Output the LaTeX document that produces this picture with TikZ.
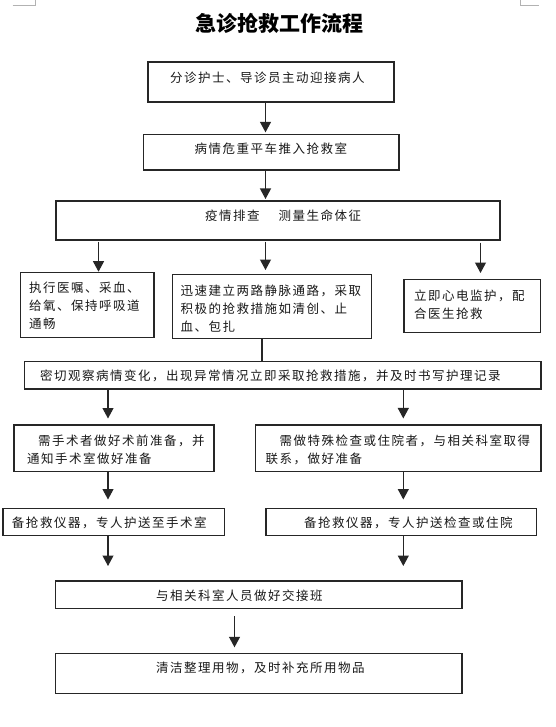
\documentclass[tikz,border=0pt]{standalone}
\usepackage{fontspec}
\setmainfont{Noto Sans CJK SC}
\newfontfamily\bodyfont{Noto Sans CJK SC}[LetterSpace=12]
\usetikzlibrary{arrows.meta}
\tikzset{
  box/.style={draw=black!85, line width=1.1pt, inner sep=0pt, outer sep=0pt},
  txt/.style={anchor=west, inner sep=0pt, outer sep=0pt, text=black!90, font=\bodyfont\fontsize{12.5}{14}\selectfont},
  arr/.style={draw=black!85, line width=1.1pt, -{Triangle[length=10.5pt,width=11pt]}},
  link/.style={draw=black!85, line width=1.1pt},
  cropline/.style={draw=black!30, line width=0.8pt}
}
\begin{document}
\begin{tikzpicture}[x=1pt,y=-1pt]
\useasboundingbox[fill=white] (0,0) rectangle (555,727);

% crop marks
\coordinate (cm1) at (12.7,5);
\coordinate (cm2) at (35,5);
\coordinate (cm3) at (35,0);
\coordinate (cm4) at (520,0);
\coordinate (cm5) at (520,5);
\coordinate (cm6) at (539,5);
\draw[cropline] (cm1) -- (cm2) -- (cm3);
\draw[cropline] (cm4) -- (cm5) -- (cm6);

% title
\node[font=\fontsize{21}{21}\selectfont\bfseries, inner sep=0pt] (title) at (279.3,23) {急诊抢救工作流程};

% boxes
\node[box, minimum width=246pt, minimum height=40pt] (b1) at (271,82) {};
\node[box, minimum width=255.6pt, minimum height=35.7pt] (b2) at (271.2,152.2) {};
\node[box, minimum width=444pt, minimum height=39pt] (b3) at (278,220.5) {};
\node[box, minimum width=133.3pt, minimum height=64.6pt] (b4a) at (87.35,305) {};
\node[box, minimum width=199pt, minimum height=64pt] (b4b) at (271.8,306.7) {};
\node[box, minimum width=136.7pt, minimum height=53.4pt] (b4c) at (472.35,306) {};
\node[box, minimum width=516.7pt, minimum height=27.3pt] (b5) at (282.65,375.35) {};
\node[box, minimum width=200pt, minimum height=46.5pt] (b6a) at (114,448.25) {};
\node[box, minimum width=285.4pt, minimum height=46.7pt] (b6b) at (398.3,448.3) {};
\node[box, minimum width=221.8pt, minimum height=27.2pt] (b7a) at (113.9,522.1) {};
\node[box, minimum width=270.7pt, minimum height=27.2pt] (b7b) at (401.35,522.1) {};
\node[box, minimum width=406.5pt, minimum height=27.3pt] (b8) at (258.75,594.65) {};
\node[box, minimum width=406.5pt, minimum height=40pt] (b9) at (258.75,673.3) {};

% texts
\node[txt] (t1) at (170,78) {分诊护士、导诊员主动迎接病人};
\node[txt] (t2) at (194.7,148.3) {病情危重平车推入抢救室};
\node[txt] (t3) at (205,216) {疫情排查\hspace{19pt}测量生命体征};
\node[txt] (t4a1) at (29,287.7) {执行医嘱、采血、};
\node[txt] (t4a2) at (29,305.7) {给氧、保持呼吸道};
\node[txt] (t4a3) at (29,324) {通畅};
\node[txt] (t4b1) at (180.5,290.7) {迅速建立两路静脉通路，采取};
\node[txt] (t4b2) at (180.5,309) {积极的抢救措施如清创、止};
\node[txt] (t4b3) at (180.5,326.7) {血、包扎};
\node[txt] (t4c1) at (414,296) {立即心电监护，配};
\node[txt] (t4c2) at (414,313.3) {合医生抢救};
\node[txt] (t5) at (40,375.5) {密切观察病情变化，出现异常情况立即采取抢救措施，并及时书写护理记录};
\node[txt] (t6a1) at (38,441) {需手术者做好术前准备，并};
\node[txt] (t6a2) at (27,459) {通知手术室做好准备};
\node[txt] (t6b1) at (279.6,441) {需做特殊检查或住院者，与相关科室取得};
\node[txt] (t6b2) at (265.5,459) {联系，做好准备};
\node[txt] (t7a) at (12,523) {备抢救仪器，专人护送至手术室};
\node[txt] (t7b) at (304,523) {备抢救仪器，专人护送检查或住院};
\node[txt] (t8) at (156,595.5) {与相关科室人员做好交接班};
\node[txt] (t9) at (156,667.5) {清洁整理用物，及时补充所用物品};

% connector x positions
\coordinate (xm) at (265.5,0);
\coordinate (xa) at (98.5,0);
\coordinate (xc) at (480.5,0);
\coordinate (xd) at (262,0);
\coordinate (xe) at (108,0);
\coordinate (xf) at (403.3,0);
\coordinate (xg) at (234.5,0);

% connectors
\draw[arr, shorten >=2pt] (xm |- b1.south) -- (xm |- b2.north);
\draw[arr, shorten >=2pt] (xm |- b2.south) -- (xm |- b3.north);
\draw[arr, shorten <=1.7pt, shorten >=1pt] (xa |- b3.south) -- (xa |- b4a.north);
\draw[arr, shorten <=1.7pt, shorten >=4.7pt] (xm |- b3.south) -- (xm |- b4b.north);
\draw[arr, shorten <=2.5pt, shorten >=6.3pt] (xc |- b3.south) -- (xc |- b4c.north);
\draw[link] (xd |- b4b.south) -- (xd |- b5.north);
\draw[arr, shorten >=6.5pt] (xe |- b5.south) -- (xe |- b6a.north);
\draw[arr, shorten >=6.5pt] (xf |- b5.south) -- (xf |- b6b.north);
\draw[arr, shorten >=9pt] (xe |- b6a.south) -- (xe |- b7a.north);
\draw[arr, shorten >=9pt] (xf |- b6b.south) -- (xf |- b7b.north);
\draw[arr, shorten >=15pt] (xe |- b7a.south) -- (xe |- b8.north);
\draw[arr, shorten >=15pt] (xf |- b7b.south) -- (xf |- b8.north);
\draw[arr, shorten <=7.7pt, shorten >=6pt] (xg |- b8.south) -- (xg |- b9.north);
\end{tikzpicture}
\end{document}
